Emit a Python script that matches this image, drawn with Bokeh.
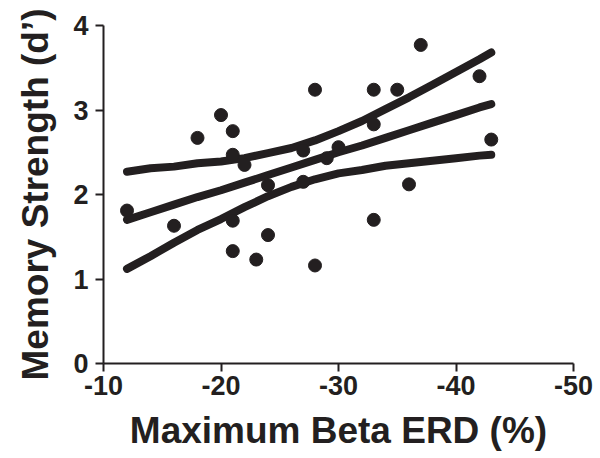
from bokeh.plotting import figure
from bokeh.models import Range1d, FixedTicker, ColumnDataSource
from bokeh.embed import file_html
from bokeh.resources import INLINE

# Per-subject maximum beta ERD (%) and memory strength (d')
erd = [-12, -16, -18, -20, -21, -21, -21, -21, -22, -23, -24, -24, -27,
       -27, -28, -28, -29, -30, -33, -33, -33, -35, -36, -37, -42, -43]
dprime = [1.81, 1.63, 2.67, 2.94, 2.75, 2.47, 1.69, 1.33, 2.35, 1.23, 2.11,
          1.52, 2.52, 2.15, 3.24, 1.16, 2.43, 2.56, 3.24, 2.83, 1.70, 3.24,
          2.12, 3.77, 3.40, 2.65]

# Linear fit with its 95% confidence band
fit_x = [-12, -14, -16, -18, -20, -22, -24, -26, -28, -30, -32, -34, -36,
         -38, -40, -42, -43]
fit_mid = [1.70, 1.79, 1.88, 1.97, 2.05, 2.14, 2.23, 2.32, 2.41, 2.50, 2.58,
           2.67, 2.76, 2.85, 2.94, 3.03, 3.07]
fit_upper = [2.27, 2.31, 2.33, 2.37, 2.39, 2.43, 2.49, 2.55, 2.64, 2.75, 2.87,
             3.01, 3.15, 3.30, 3.45, 3.60, 3.68]
fit_lower = [1.12, 1.27, 1.43, 1.58, 1.71, 1.85, 1.98, 2.09, 2.18, 2.25, 2.29,
             2.34, 2.37, 2.40, 2.43, 2.46, 2.47]

x_ticks = [-10, -20, -30, -40, -50]
y_ticks = [0, 1, 2, 3, 4]

INK = "#231f20"
FONT = "Liberation Sans"

p = figure(width=600, height=458, output_backend="svg", toolbar_location=None,
           x_range=Range1d(-10, -50), y_range=Range1d(0, 4),
           min_border_left=103, min_border_right=27,
           min_border_top=25, min_border_bottom=95)
p.outline_line_color = None
p.grid.visible = False
p.background_fill_color = "white"
p.border_fill_color = "white"

band = ColumnDataSource(dict(x=fit_x, mid=fit_mid, up=fit_upper, lo=fit_lower))
for col in ("up", "mid", "lo"):
    p.line("x", col, source=band, line_width=8, line_color=INK,
           line_cap="round", line_join="round")

p.scatter(erd, dprime, size=13, color=INK, line_color=INK)

for ax in (p.xaxis[0], p.yaxis[0]):
    ax.axis_line_width = 2
    ax.axis_line_color = INK
    ax.major_tick_line_width = 2
    ax.major_tick_line_color = INK
    ax.major_tick_out = 8
    ax.major_tick_in = 0
    ax.minor_tick_line_color = None
    ax.major_label_text_font = FONT
    ax.major_label_text_font_style = "bold"
    ax.major_label_text_font_size = "27px"
    ax.major_label_text_color = INK
    ax.axis_label_text_font = FONT
    ax.axis_label_text_font_style = "bold"
    ax.axis_label_text_font_size = "37px"
    ax.axis_label_text_color = INK

p.xaxis.ticker = FixedTicker(ticks=x_ticks)
p.yaxis.ticker = FixedTicker(ticks=y_ticks)
# plain hyphen-minus for the negative tick labels
p.xaxis.major_label_overrides = {t: str(t) for t in x_ticks}
p.xaxis.axis_label = "Maximum Beta ERD (%)"
p.yaxis.axis_label = "Memory Strength (d\u2019)"
p.xaxis.major_label_standoff = 4
p.yaxis.major_label_standoff = 7
p.xaxis.axis_label_standoff = 12
p.yaxis.axis_label_standoff = 14

open("out.html", "w").write(file_html(p, INLINE))
